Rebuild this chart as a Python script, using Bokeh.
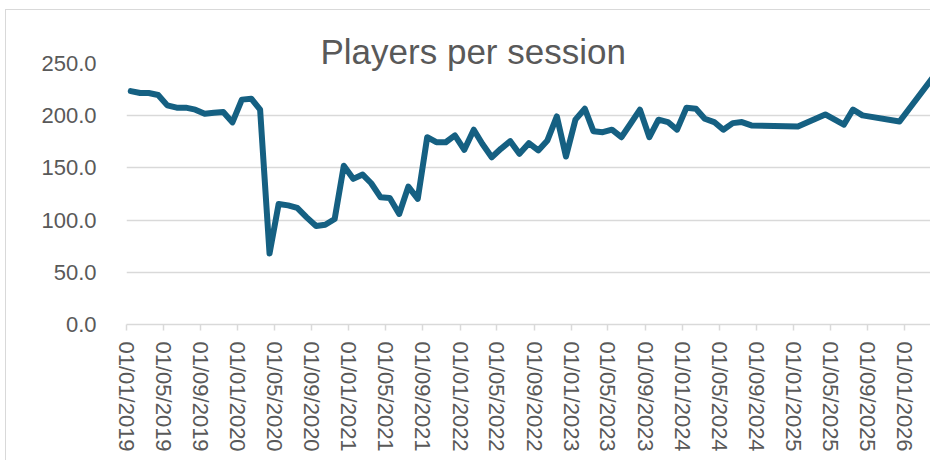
import pandas as pd
from bokeh.plotting import figure
from bokeh.models import Range1d, FixedTicker, DatetimeTickFormatter, NumeralTickFormatter, Title
from bokeh.embed import file_html
from bokeh.resources import INLINE

# ---- data ----
months = [
    "2019-01", "2019-02", "2019-03", "2019-04", "2019-05", "2019-06", "2019-07", "2019-08", "2019-09", "2019-10", "2019-11", "2019-12",
    "2020-01", "2020-02", "2020-03", "2020-04", "2020-05", "2020-06", "2020-07", "2020-08", "2020-09", "2020-10", "2020-11", "2020-12",
    "2021-01", "2021-02", "2021-03", "2021-04", "2021-05", "2021-06", "2021-07", "2021-08", "2021-09", "2021-10", "2021-11", "2021-12",
    "2022-01", "2022-02", "2022-03", "2022-04", "2022-05", "2022-06", "2022-07", "2022-08", "2022-09", "2022-10", "2022-11", "2022-12",
    "2023-01", "2023-02", "2023-03", "2023-04", "2023-05", "2023-06", "2023-07", "2023-08", "2023-09", "2023-10", "2023-11", "2023-12",
    "2024-01", "2024-02", "2024-03", "2024-04", "2024-05", "2024-06", "2024-07", "2024-08",
    "2025-01", "2025-04", "2025-06", "2025-07", "2025-08", "2025-12", "2026-04",
]
players = [
    223.6, 221.7, 221.7, 219.8, 209.9, 207.7, 207.7, 205.8, 201.9, 202.9, 203.5, 193.6,
    215.4, 216.3, 205.8, 68.0, 115.5, 114.1, 111.6, 102.6, 94.3, 95.6, 101.1, 152.0,
    139.5, 143.6, 135.3, 121.8, 121.2, 105.9, 132.1, 120.3, 179.4, 174.6, 174.6, 181.1,
    167.3, 186.6, 173.1, 160.2, 168.3, 175.6, 163.5, 173.7, 166.7, 176.3, 199.3, 160.9,
    196.2, 206.7, 185.2, 184.2, 186.6, 179.4, 192.3, 205.8, 179.4, 196.2, 193.9, 186.6,
    207.7, 206.7, 197.1, 193.9, 186.6, 192.9, 193.9, 190.7,
    189.7, 201.2, 191.4, 205.9, 200.3, 194.5, 241.0,
]
tick_dates = [f"{y}-{m:02d}-01" for y in range(2019, 2027) for m in (1, 5, 9) if not (y == 2026 and m > 1)]
y_ticks = [0, 50, 100, 150, 200, 250]
title_text = "Players per session"

# ---- figure ----
dates = pd.to_datetime([m + "-15" for m in months])
x0 = pd.Timestamp("2019-01-01")
x1 = pd.Timestamp("2026-03-30")

TEXT = "#595959"
GRID = "#d9d9d9"
FONT = "Liberation Sans"

p = figure(width=925, height=451, x_axis_type="datetime",
           x_range=Range1d(x0, x1), y_range=Range1d(0, 250),
           output_backend="svg", toolbar_location=None,
           min_border_left=120, min_border_right=0, min_border_top=53, min_border_bottom=137,
           background_fill_color="white", border_fill_color="white")
p.outline_line_color = None
p.styles = {"margin-left": "5px", "margin-top": "9px",
            "border-left": "1px solid #d9d9d9", "border-top": "1px solid #d9d9d9"}

p.line(dates, players, line_color="#156082", line_width=6, line_join="round", line_cap="round")

p.xgrid.visible = False
p.ygrid.grid_line_color = GRID
p.ygrid.grid_line_width = 1.5

ya = p.yaxis[0]
ya.ticker = FixedTicker(ticks=y_ticks, minor_ticks=[])
ya.formatter = NumeralTickFormatter(format="0.0")
ya.axis_line_color = None
ya.major_tick_line_color = None
ya.minor_tick_line_color = None
ya.major_label_text_font = FONT
ya.major_label_text_font_size = "22px"
ya.major_label_text_color = TEXT
ya.major_label_standoff = 24

xa = p.xaxis[0]
xa.ticker = FixedTicker(ticks=[pd.Timestamp(d).value / 1e6 for d in tick_dates], minor_ticks=[])
fmt = "%d/%m/%Y"
xa.formatter = DatetimeTickFormatter(milliseconds=fmt, seconds=fmt, minsec=fmt, minutes=fmt,
                                     hourmin=fmt, hours=fmt, days=fmt, months=fmt, years=fmt)
xa.major_label_orientation = "vertical"
xa.axis_line_color = GRID
xa.axis_line_width = 1.5
xa.major_tick_line_color = GRID
xa.major_tick_line_width = 1.5
xa.major_tick_in = 0
xa.major_tick_out = 6
xa.minor_tick_line_color = None
xa.major_label_text_font = FONT
xa.major_label_text_font_size = "22px"
xa.major_label_text_color = TEXT
xa.major_label_standoff = 11

p.add_layout(Title(text=title_text, align="left", offset=194, standoff=-14,
                   text_font=FONT, text_font_size="35px", text_font_style="normal",
                   text_color=TEXT), "above")

open("out.html", "w").write(file_html(p, INLINE))
